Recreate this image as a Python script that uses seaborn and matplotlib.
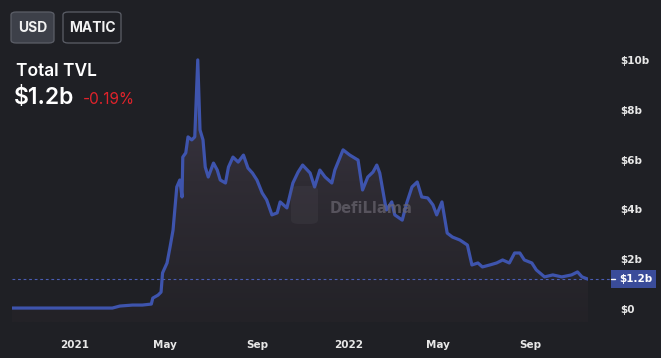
import matplotlib
matplotlib.use('Agg')
import matplotlib.pyplot as plt
import matplotlib.dates as mdates
from matplotlib.patches import FancyBboxPatch, Rectangle, PathPatch
from matplotlib.colors import LinearSegmentedColormap
from matplotlib.lines import Line2D
import numpy as np
import pandas as pd
import seaborn as sns

# ---------------- data ----------------
dates = [
    '2020-10-09', '2021-02-03', '2021-02-20', '2021-03-02', '2021-03-19', '2021-04-01',
    '2021-04-13', '2021-04-15', '2021-04-22', '2021-04-26', '2021-04-28', '2021-05-04',
    '2021-05-08', '2021-05-12', '2021-05-17', '2021-05-21', '2021-05-24', '2021-05-25',
    '2021-05-29', '2021-06-01', '2021-06-06', '2021-06-10', '2021-06-14', '2021-06-17',
    '2021-06-21', '2021-06-24', '2021-06-28', '2021-07-05', '2021-07-10', '2021-07-14',
    '2021-07-21', '2021-07-25', '2021-07-31', '2021-08-07', '2021-08-14', '2021-08-20',
    '2021-08-26', '2021-09-01', '2021-09-08', '2021-09-14', '2021-09-21', '2021-09-28',
    '2021-10-02', '2021-10-11', '2021-10-19', '2021-10-26', '2021-11-01', '2021-11-11',
    '2021-11-17', '2021-11-24', '2021-12-01', '2021-12-10', '2021-12-14', '2021-12-25',
    '2022-01-03', '2022-01-14', '2022-01-20', '2022-01-27', '2022-02-03', '2022-02-08',
    '2022-02-12', '2022-02-19', '2022-02-21', '2022-02-28', '2022-03-04', '2022-03-14',
    '2022-03-20', '2022-03-27', '2022-04-03', '2022-04-09', '2022-04-17', '2022-04-24',
    '2022-04-29', '2022-05-06', '2022-05-13', '2022-05-20', '2022-05-30', '2022-06-09',
    '2022-06-15', '2022-06-23', '2022-06-29', '2022-07-09', '2022-07-18', '2022-07-26',
    '2022-08-04', '2022-08-11', '2022-08-18', '2022-08-24', '2022-09-03', '2022-09-09',
    '2022-09-20', '2022-10-01', '2022-10-13', '2022-10-26', '2022-11-03', '2022-11-09',
    '2022-11-17',
]
tvl_billions = [
    0.04, 0.04, 0.04, 0.12, 0.16, 0.16,
    0.20, 0.44, 0.56, 0.68, 1.45, 1.85,
    2.49, 3.17, 4.90, 5.18, 4.50, 6.10,
    6.27, 6.91, 6.79, 6.91, 10.0, 7.19,
    6.79, 5.70, 5.30, 5.86, 5.58, 5.18,
    5.06, 5.70, 6.10, 5.90, 6.18, 5.66,
    5.46, 5.18, 4.66, 4.38, 3.78, 3.86,
    4.30, 4.06, 5.06, 5.50, 5.78, 5.46,
    4.90, 5.58, 5.30, 5.06, 5.58, 6.39,
    6.18, 5.98, 4.78, 5.30, 5.50, 5.78,
    5.46, 4.26, 3.98, 4.30, 3.78, 3.57,
    4.26, 4.90, 5.10, 4.50, 4.46, 4.18,
    3.78, 4.30, 3.05, 2.89, 2.77, 2.57,
    1.77, 1.85, 1.69, 1.77, 1.85, 1.97,
    1.85, 2.25, 2.25, 1.97, 1.85, 1.57,
    1.29, 1.37, 1.29, 1.37, 1.49, 1.29,
    1.20,
]
x_tick_dates = ['2021-01-01', '2021-05-01', '2021-09-01', '2022-01-01', '2022-05-01', '2022-09-01']
x_tick_labels = ['2021', 'May', 'Sep', '2022', 'May', 'Sep']
y_tick_values = [0, 2, 4, 6, 8, 10]
y_tick_labels = ['$0', '$2b', '$4b', '$6b', '$8b', '$10b']
current_value = 1.2
current_label = '$1.2b'
title_text = 'Total TVL'
change_text = '-0.19%'
buttons = ['USD', 'MATIC']
watermark = 'DefiLlama'

df = pd.DataFrame({'date': pd.to_datetime(dates), 'tvl': tvl_billions})

# ---------------- style ----------------
sns.set_theme(style='dark')
plt.rcParams['font.family'] = ['DejaVu Sans']
BG = '#1f2025'
LINE = '#3e54ad'
W, H = 661, 358

fig = plt.figure(figsize=(W / 100, H / 100), dpi=100, facecolor=BG)

def fx(px):
    return px / W

def fy(py):
    return 1 - py / H

ax = fig.add_axes([fx(12), fy(322), fx(576), (322 - 40) / H])
ax.set_facecolor(BG)
for s in ax.spines.values():
    s.set_visible(False)

ymin, ymax = -0.52, 10.8
x0 = mdates.date2num(df['date'].iloc[0])
x1 = mdates.date2num(df['date'].iloc[-1])

# gradient area under the curve
poly = ax.fill_between(df['date'], ymin, df['tvl'], color='none', lw=0)
path = poly.get_paths()[0]
patch = PathPatch(path, transform=ax.transData, facecolor='none', edgecolor='none')
ax.add_patch(patch)
cmap = LinearSegmentedColormap.from_list('g', ['#232227', '#2f2c34', '#403a4b'])
grad = np.linspace(0, 1, 256)[:, None]
im = ax.imshow(grad, extent=[x0, x1, ymin, ymax], origin='lower', aspect='auto',
               cmap=cmap, zorder=1, interpolation='bilinear')
im.set_clip_path(patch)

sns.lineplot(data=df, x='date', y='tvl', ax=ax, color=LINE, linewidth=2.3, zorder=4)
for ln in ax.lines:
    ln.set_solid_joinstyle('round')
    ln.set_solid_capstyle('round')

ax.set_xlim(x0, x1)
ax.set_ylim(ymin, ymax)

# dashed current-value line extending to the label box
ax.plot([0, (611 - 12) / 576], [current_value, current_value],
        transform=ax.get_yaxis_transform(), clip_on=False,
        ls=(0, (2.5, 2.5)), color='#4a5db5', lw=0.8, zorder=3)

# ticks
ax.set_xticks(mdates.date2num(pd.to_datetime(x_tick_dates)))
ax.set_xticklabels(x_tick_labels)
ax.set_yticks(y_tick_values)
ax.set_yticklabels(y_tick_labels)
ax.yaxis.tick_right()
ax.tick_params(axis='y', length=0, pad=23, labelsize=7.5, labelcolor='#e8e8e8')
ax.tick_params(axis='x', length=0, pad=13, labelsize=7.5, labelcolor='#e8e8e8')
for lab in ax.get_xticklabels() + ax.get_yticklabels():
    lab.set_fontweight('bold')
ax.set_xlabel('')
ax.set_ylabel('')
ax.grid(False)

# current value box
fig.add_artist(Rectangle((fx(611), fy(288)), fx(45), (288 - 270) / H,
                         transform=fig.transFigure, facecolor='#3a4c9a', edgecolor='none'))
fig.add_artist(Line2D([fx(611), fx(615)], [fy(279), fy(279)], transform=fig.transFigure,
                      color='white', lw=1.0))
fig.text(fx(619), fy(279.5), current_label, color='white', fontsize=7.5, fontweight='bold',
         ha='left', va='center')

# watermark
fig.add_artist(FancyBboxPatch((fx(291), fy(224)), fx(27), (224 - 186) / H,
                              boxstyle='round,pad=0,rounding_size=0.012',
                              transform=fig.transFigure, facecolor='#5a5660', alpha=0.18,
                              edgecolor='none', zorder=5))
fig.text(fx(330), fy(208), watermark, color='#6a6670', alpha=0.7, fontsize=10.5,
         fontweight='bold', ha='left', va='center', zorder=5)

# header texts
fig.text(fx(16), fy(76), title_text, color='white', fontsize=12.5, family=['Inter', 'DejaVu Sans'],
         fontweight='semibold', ha='left', va='baseline')
fig.text(fx(14), fy(104), current_label, color='white', fontsize=16.5,
         family=['Inter', 'DejaVu Sans'], fontweight='semibold', ha='left', va='baseline')
fig.text(fx(83), fy(104), change_text, color='#e0232b', fontsize=11,
         family=['Inter', 'DejaVu Sans'], ha='left', va='baseline')

# buttons
btn_specs = [(11, 54, '#3d4049'), (63, 121, BG)]
for (bx0, bx1, fc), label in zip(btn_specs, buttons):
    fig.add_artist(FancyBboxPatch((fx(bx0), fy(43)), fx(bx1 - bx0), (43 - 12) / H,
                                  boxstyle='round,pad=0,rounding_size=0.008',
                                  transform=fig.transFigure, facecolor=fc,
                                  edgecolor='#5c5f68', lw=0.9))
    fig.text(fx((bx0 + bx1) / 2), fy(28), label, color='#f2f2f2', fontsize=10,
             fontweight='bold', family=['Inter', 'DejaVu Sans'], ha='center', va='center')

fig.savefig('out.png', dpi=100, facecolor=BG)
